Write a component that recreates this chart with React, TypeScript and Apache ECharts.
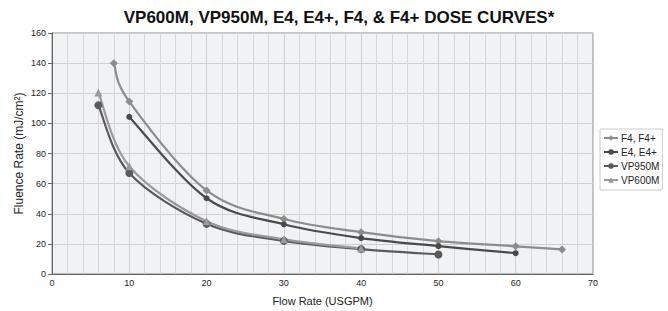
import React, { useEffect, useRef } from "react";
import * as echarts from "echarts";

const titleText = "VP600M, VP950M, E4, E4+, F4, & F4+ DOSE CURVES*";
const xName = "Flow Rate (USGPM)";
const yName = "Fluence Rate (mJ/cm²)";

const f4Data: [number, number][] = [[8, 140], [10, 114.5], [20, 55.5], [30, 36.5], [40, 27.8], [50, 21.8], [60, 18.4], [66, 16.3]];
const e4Data: [number, number][] = [[10, 104.3], [20, 50.3], [30, 33], [40, 23.8], [50, 18.5], [60, 13.8]];
const vp950Data: [number, number][] = [[6, 112], [10, 67], [20, 33.3], [30, 22], [40, 16.5], [50, 13]];
const vp600Data: [number, number][] = [[6, 120.5], [10, 71.5], [20, 35], [30, 23], [40, 17]];

const seriesDefs = [
  { name: "F4, F4+", data: f4Data, color: "#8c8c8c", symbol: "diamond", size: 8 },
  { name: "E4, E4+", data: e4Data, color: "#4a4a4a", symbol: "circle", size: 6 },
  { name: "VP950M", data: vp950Data, color: "#5a5a5a", symbol: "circle", size: 8 },
  { name: "VP600M", data: vp600Data, color: "#9a9a9a", symbol: "triangle", size: 8 },
];

function splinePath(pts: number[][]): string {
  if (!pts.length) return "";
  let d = `M${pts[0][0]},${pts[0][1]}`;
  const t = 0.5 / 3;
  for (let i = 0; i < pts.length - 1; i++) {
    const p0 = pts[i - 1] || pts[i];
    const p1 = pts[i];
    const p2 = pts[i + 1];
    const p3 = pts[i + 2] || pts[i + 1];
    const c1x = p1[0] + (p2[0] - p0[0]) * t;
    const c1y = p1[1] + (p2[1] - p0[1]) * t;
    const c2x = p2[0] - (p3[0] - p1[0]) * t;
    const c2y = p2[1] - (p3[1] - p1[1]) * t;
    d += ` C${c1x},${c1y} ${c2x},${c2y} ${p2[0]},${p2[1]}`;
  }
  return d;
}

export default function App() {
  const ref = useRef<HTMLDivElement>(null);
  useEffect(() => {
    if (!ref.current) return;
    const chart = echarts.init(ref.current, null, { renderer: "svg" });
    const font = "'Liberation Sans', Arial, sans-serif";
    const curves = seriesDefs.map((s) => ({
      type: "custom",
      name: s.name + " curve",
      data: [0],
      silent: true,
      z: 1,
      renderItem: (_params: any, api: any) => {
        const pts = s.data.map((p) => api.coord(p));
        return {
          type: "path",
          shape: { pathData: splinePath(pts) },
          style: { fill: "none", stroke: s.color, lineWidth: 2.2 },
        };
      },
    }));
    const markers = seriesDefs.map((s) => ({
      name: s.name,
      type: "line",
      data: s.data,
      z: 3,
      symbol: s.symbol,
      symbolSize: s.size,
      showAllSymbol: true,
      lineStyle: { color: s.color, width: 2.2, opacity: 0 },
      itemStyle: { color: s.color },
    }));
    chart.setOption({
      animation: false,
      textStyle: { fontFamily: font },
      title: {
        text: titleText,
        left: 334,
        textAlign: "center",
        top: 4,
        textStyle: { fontFamily: font, fontSize: 17, fontWeight: "bold", color: "#111" },
      },
      grid: { left: 52, right: 75, top: 33, bottom: 33, show: true, backgroundColor: "#f1f2f4", borderColor: "#888", borderWidth: 1 },
      legend: {
        orient: "vertical",
        left: 600,
        top: 129,
        padding: [4, 3, 5, 3],
        itemGap: 4,
        itemWidth: 14,
        itemHeight: 7,
        borderColor: "#ccc",
        borderWidth: 1,
        backgroundColor: "#fff",
        textStyle: { fontSize: 10, color: "#222", padding: [0, 0, 0, -2] },
        data: seriesDefs.map((s) => ({ name: s.name, lineStyle: { color: s.color, width: 2, opacity: 1 } })),
      },
      xAxis: {
        type: "value",
        min: 0,
        max: 70,
        interval: 10,
        name: xName,
        nameLocation: "middle",
        nameGap: 21,
        nameMoveOverlap: false,
        nameTextStyle: { fontSize: 11, color: "#222" },
        axisLine: { show: true, lineStyle: { color: "#666" } },
        axisTick: { show: false },
        axisLabel: { fontSize: 9, color: "#222", margin: 4 },
        splitLine: { show: true, lineStyle: { color: "#d0d0d0", width: 1 } },
        minorTick: { show: false, splitNumber: 5 },
        minorSplitLine: { show: true, lineStyle: { color: "#d8d8d8", width: 1 } },
      },
      yAxis: {
        type: "value",
        min: 0,
        max: 160,
        interval: 20,
        name: yName,
        nameLocation: "middle",
        nameGap: 27,
        nameMoveOverlap: false,
        nameTextStyle: { fontSize: 12, color: "#222" },
        axisLine: { show: true, lineStyle: { color: "#666" } },
        axisTick: { show: true, length: 4, lineStyle: { color: "#666" } },
        axisLabel: { fontSize: 9, color: "#222", margin: 6 },
        splitLine: { show: true, lineStyle: { color: "#d0d0d0", width: 1 } },
      },
      series: [...curves, ...markers],
    });
    return () => chart.dispose();
  }, []);
  return <div ref={ref} style={{ position: "absolute", left: 0, top: 0, width: 668, height: 311 }} />;
}
